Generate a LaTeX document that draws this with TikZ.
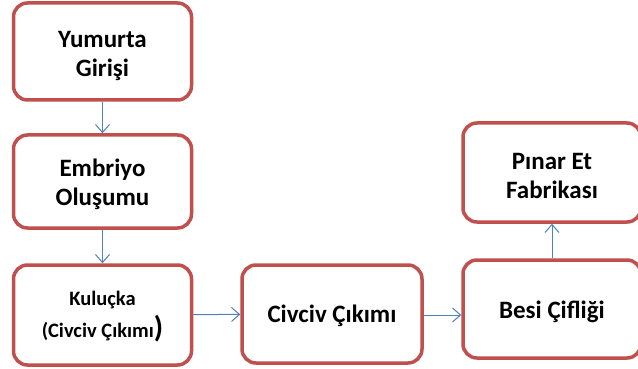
\documentclass[tikz,border=0pt]{standalone}
\usepackage{fontspec}
\setmainfont{Carlito}
\usetikzlibrary{arrows.meta}
\definecolor{boxred}{HTML}{C0504D}
\definecolor{flowblue}{HTML}{4F81BD}
\begin{document}
\begin{tikzpicture}[x=1pt,y=-1pt,
  stage/.style={draw=boxred, line width=3.5pt, rounded corners=14pt, fill=white,
    minimum width=178pt, inner sep=0pt},
  caption/.style={align=center, inner sep=0pt, font=\bfseries\fontsize{25}{29}\selectfont},
  flow/.style={draw=flowblue, line width=1pt,
    -{Straight Barb[length=8pt,width=14pt,line width=1pt]}}]
  \clip (0,0) rectangle (638,369);
  \fill[white] (0,0) rectangle (638,369);
  % left column
  \node[stage, minimum height=97pt] (egg) at (102.5,51.5) {};
  \node[caption] (egg-t) at ([yshift=-4pt]egg.center) {Yumurta\\Girişi};
  \node[stage, minimum height=93pt] (embryo) at (102.5,181.5) {};
  \node[caption] (embryo-t) at ([yshift=-3pt]embryo.center) {Embriyo\\Oluşumu};
  \node[stage, minimum height=100pt] (incub) at (102.5,315) {};
  \node[caption, font=\bfseries\fontsize{20.5}{32}\selectfont] (incub-t) at ([yshift=-2pt]incub.center)
    {Kuluçka\\(Civciv Çıkımı{\fontsize{30}{32}\selectfont)}};
  % bottom row
  \node[stage, minimum height=98pt, minimum width=180pt] (hatch) at (332,314) {};
  \node[caption] (hatch-t) at ([yshift=-2pt]hatch.center) {Civciv Çıkımı};
  \node[stage, minimum height=98pt] (farm) at (552,309) {};
  \node[caption] (farm-t) at ([yshift=-3pt]farm.center) {Besi Çifliği};
  % top right
  \node[stage, minimum height=99pt] (plant) at (552,172.5) {};
  \node[caption] (plant-t) at ([yshift=-3pt]plant.center) {Pınar Et\\Fabrikası};
  % connectors
  \draw[flow] (egg) -- (embryo);
  \draw[flow] (embryo) -- (incub);
  \draw[flow] (incub) -- (hatch);
  \draw[flow] (hatch.east |- 0,315) -- (farm.west |- 0,315);
  \draw[flow] (farm) -- (plant);
\end{tikzpicture}
\end{document}
